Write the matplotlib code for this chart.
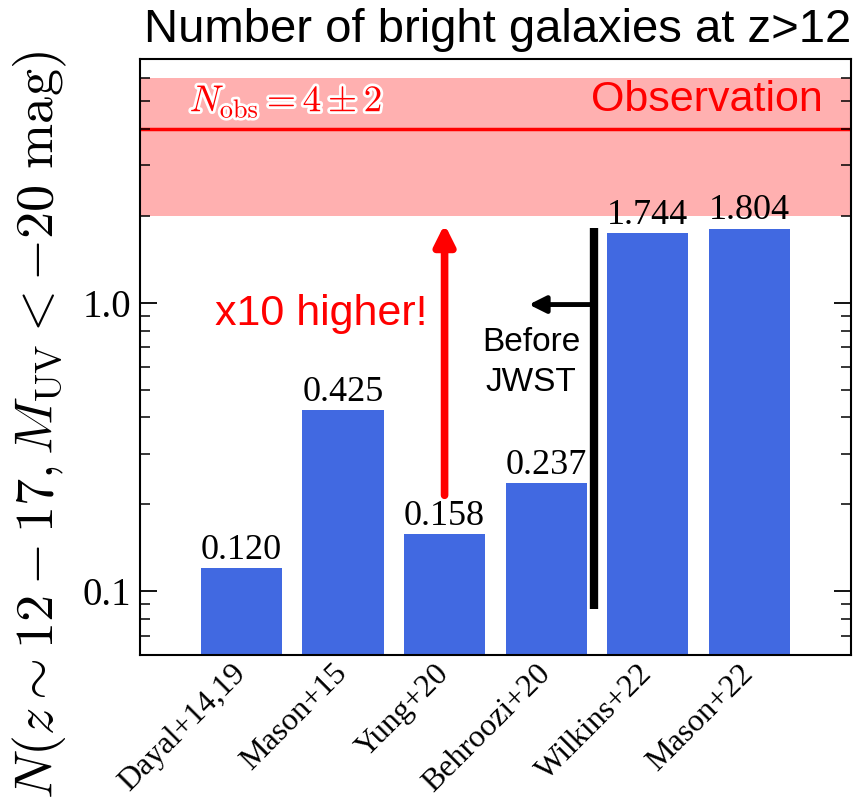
import matplotlib.pyplot as plt
import matplotlib.patheffects as pe
from matplotlib.ticker import FixedLocator, FixedFormatter, LogLocator, NullFormatter

plt.rcParams['font.family'] = ['Liberation Serif', 'DejaVu Serif']
plt.rcParams['mathtext.fontset'] = 'cm'

models = ['Dayal+14,19', 'Mason+15', 'Yung+20', 'Behroozi+20', 'Wilkins+22', 'Mason+22']
n_bright = [0.120, 0.425, 0.158, 0.237, 1.744, 1.804]
value_labels = ['0.120', '0.425', '0.158', '0.237', '1.744', '1.804']

n_obs = 4.0
n_obs_err = 2.0

dpi = 100
fig = plt.figure(figsize=(863 / dpi, 805 / dpi), dpi=dpi)
ax = fig.add_axes([0.162, 0.186, 0.824, 0.741])

x = list(range(len(models)))
ax.bar(x, n_bright, width=0.8, color='royalblue', zorder=2)
for xi, v, s in zip(x, n_bright, value_labels):
    ax.text(xi, v * 1.01, s, ha='center', va='bottom', fontsize=26, zorder=4)

# observed band
ax.axhspan(n_obs - n_obs_err, n_obs + n_obs_err, color='#ffb0b0', lw=0, zorder=0)
ax.axhline(n_obs, color='red', lw=2.5, zorder=1)
ax.text(0.44, 4.3, r'$N_{\rm obs} = 4 \pm 2$', color='red', fontsize=27,
        ha='center', va='bottom', zorder=5,
        path_effects=[pe.withStroke(linewidth=4, foreground='white')])
ax.text(4.58, 4.3, 'Observation', color='red', fontsize=31, family='Liberation Sans',
        ha='center', va='bottom', zorder=5)

# annotations
ax.annotate('', xy=(2.0, 1.87), xytext=(2.0, 0.215),
            arrowprops=dict(arrowstyle='-|>,head_length=1.2,head_width=0.6',
                            color='red', lw=5.5, shrinkA=0, shrinkB=0), zorder=5)
ax.text(0.79, 0.91, 'x10 higher!', color='red', fontsize=31, family='Liberation Sans',
        ha='center', va='center')

ax.plot([3.47, 3.47], [0.087, 1.82], color='black', lw=6, solid_capstyle='butt', zorder=5)
ax.annotate('', xy=(2.83, 0.985), xytext=(3.47, 0.985),
            arrowprops=dict(arrowstyle='-|>,head_length=1.0,head_width=0.5',
                            color='black', lw=3.5, shrinkA=0, shrinkB=0), zorder=5)
ax.text(2.85, 0.62, 'Before\nJWST', color='black', fontsize=24, family='Liberation Sans',
        ha='center', va='center', linespacing=1.35)

ax.set_yscale('log')
ax.set_ylim(0.06, 7.0)
ax.set_xlim(-1, 6)

ax.yaxis.set_major_locator(FixedLocator([0.1, 1.0]))
ax.yaxis.set_major_formatter(FixedFormatter(['0.1', '1.0']))
ax.yaxis.set_minor_locator(LogLocator(base=10, subs=range(2, 10)))
ax.yaxis.set_minor_formatter(NullFormatter())
ax.tick_params(axis='y', which='both', direction='in', left=True, right=True, labelsize=28)
ax.tick_params(axis='y', which='major', length=12, width=1.3, pad=6)
ax.tick_params(axis='y', which='minor', length=7, width=1.1)

ax.set_xticks(x)
ax.set_xticklabels(models, rotation=45, ha='right', va='center', rotation_mode='anchor',
                   fontsize=23)
ax.tick_params(axis='x', length=0, pad=10)

for s in ax.spines.values():
    s.set_linewidth(1.5)

ax.set_ylabel(r'$N(z\sim12-17, M_{\rm UV}<-20\ {\rm mag})$', fontsize=39)
ax.yaxis.set_label_coords(-0.10, 0.386)

fig.text(0.577, 0.963, 'Number of bright galaxies at z>12', family='Liberation Sans',
         fontsize=34, ha='center', va='center')

plt.savefig('out.png', dpi=dpi)
